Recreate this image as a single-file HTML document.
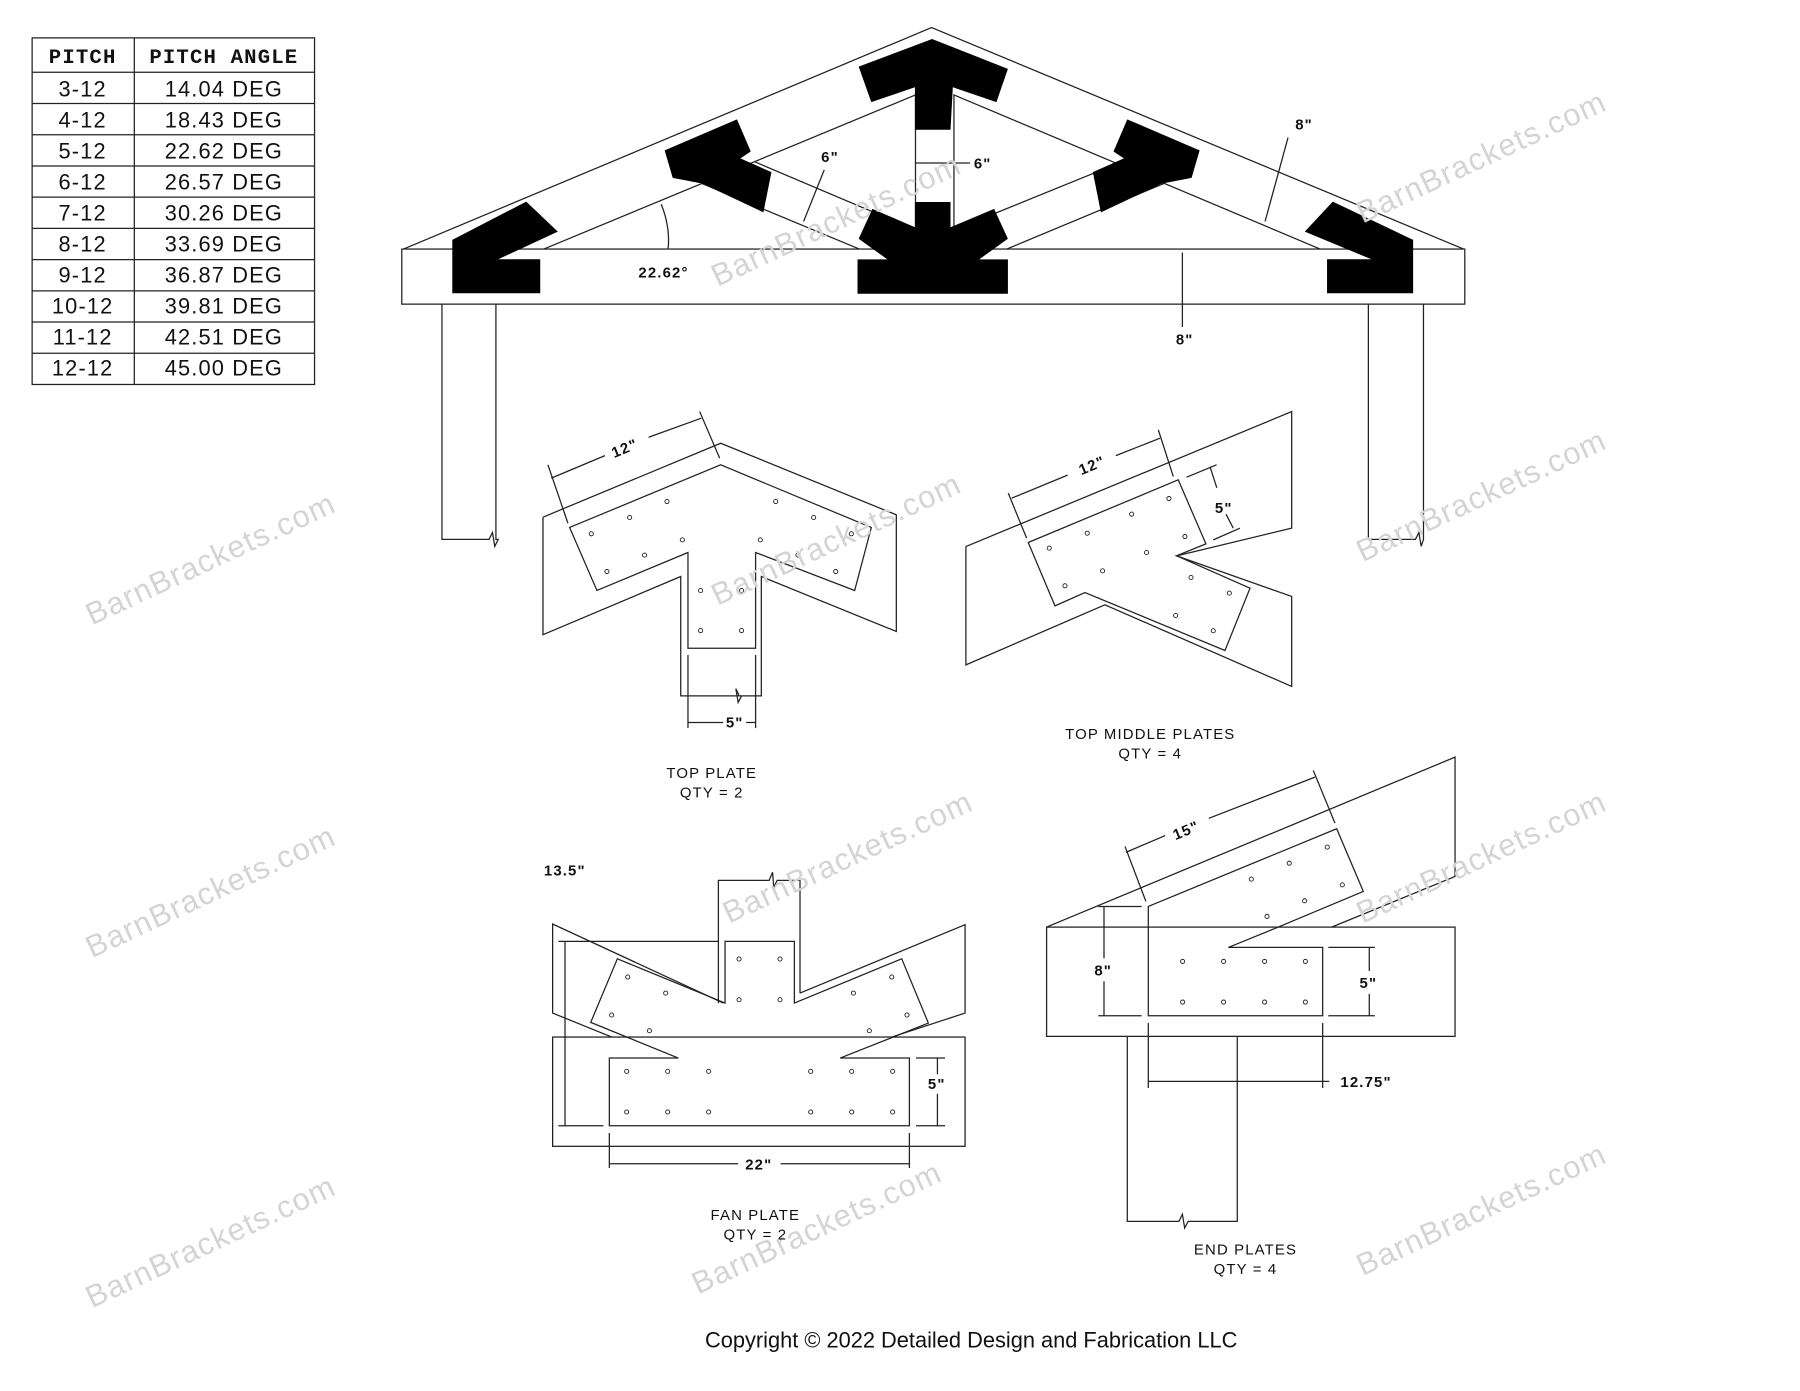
<!DOCTYPE html>
<html><head><meta charset="utf-8"><style>
html,body{margin:0;padding:0;background:#fff}
svg{display:block}
.t{font-family:"Liberation Sans",sans-serif;fill:#111}
.wm{font-family:"Liberation Sans",sans-serif;font-size:27px;fill:#d4d4d4;letter-spacing:1px}
</style></head><body>
<svg width="1800" height="1391" viewBox="0 0 1568 1212" preserveAspectRatio="none" xmlns="http://www.w3.org/2000/svg">
<g fill="none" stroke="#222" stroke-width="1.1">
<!-- table -->
<rect x="28" y="33" width="246" height="302"/>
<line x1="117" y1="33" x2="117" y2="335"/>
<line x1="28" y1="63" x2="274" y2="63"/>
<line x1="28" y1="90.2" x2="274" y2="90.2"/><line x1="28" y1="117.4" x2="274" y2="117.4"/>
<line x1="28" y1="144.6" x2="274" y2="144.6"/><line x1="28" y1="171.8" x2="274" y2="171.8"/>
<line x1="28" y1="199" x2="274" y2="199"/><line x1="28" y1="226.2" x2="274" y2="226.2"/>
<line x1="28" y1="253.4" x2="274" y2="253.4"/><line x1="28" y1="280.6" x2="274" y2="280.6"/>
<line x1="28" y1="307.8" x2="274" y2="307.8"/>

<!-- truss -->
<polyline points="351.5,217 811.5,24 1275,217"/>
<rect x="350" y="217" width="926" height="48"/>
<polyline points="473.7,217 797.5,82.7 797.5,217"/>
<polyline points="1150,217 831,82.7 831,217"/>
<line x1="657" y1="140.8" x2="797.5" y2="200.4"/>
<line x1="611" y1="159.7" x2="748.6" y2="217"/>
<line x1="977.7" y1="140.8" x2="831" y2="200.4"/>
<line x1="1014.4" y1="159.7" x2="877" y2="217"/>
<!-- posts -->
<polyline points="385,265 385,470 426,470 429,464 431,476 434,470 432,470 432,265"/>
<polyline points="1192,265 1192,470 1233,470 1236,464 1238,476 1240,470 1240,265"/>
<!-- truss dims -->
<line x1="700" y1="193" x2="718" y2="148"/>
<line x1="797" y1="142" x2="845" y2="142"/>
<line x1="1102" y1="193" x2="1122" y2="120"/>
<line x1="1030" y1="220" x2="1030" y2="285"/>
<path d="M576,178 Q584,198 582,217"/>

<!-- top plate detail -->
<polyline points="473,450.6 627.8,386.2 780.8,448.6 780.8,550.2 663.2,502.3 663.2,606.3 644,606.3 641,600 643,612 646,606.3 593,606.3 593,502.3 473,553 473,450.6"/>
<polygon points="496.2,459.6 627.8,405 759,459.6 744.5,514.5 658.2,481.4 658.2,564.8 599.3,564.8 599.3,481.4 520,514.5"/>
<line x1="599.3" y1="570.6" x2="599.3" y2="634.4"/><line x1="658.2" y1="570.6" x2="658.2" y2="634.4"/>
<line x1="599.3" y1="629.5" x2="630" y2="629.5"/><line x1="650" y1="629.5" x2="658.2" y2="629.5"/>
<line x1="477.3" y1="405" x2="494.7" y2="455.8"/><line x1="609.5" y1="358.6" x2="626.9" y2="399.2"/>
<line x1="480.2" y1="416.6" x2="527" y2="397"/><line x1="565" y1="381" x2="610.9" y2="364.4"/>

<!-- top middle plates detail -->
<polyline points="841.4,476.2 1125.2,358.6 1125.2,460.2 1025,484.3 1125.2,519.7 1125.2,598.1 962.5,527 841.4,579.3 841.4,476.2"/>
<polygon points="895.7,472.7 1026.4,418.1 1050.5,473.9 1025,484.3 1088.9,512.5 1067.1,566.8 945.1,516.3 919,527.9"/>
<line x1="878.3" y1="429.7" x2="894.3" y2="468.9"/><line x1="1009" y1="374.5" x2="1022.1" y2="415.2"/>
<line x1="881.2" y1="434.1" x2="930" y2="414"/><line x1="972" y1="397" x2="1010.5" y2="381.8"/>
<line x1="1033.7" y1="415.8" x2="1059.8" y2="405"/><line x1="1056.9" y1="470.4" x2="1080.1" y2="460.2"/>
<line x1="1054" y1="406.5" x2="1060" y2="425"/><line x1="1068" y1="448" x2="1074.3" y2="460.2"/>

<!-- fan plate detail -->
<polyline points="625.8,874 625.8,767.1 670,767.1 673,760 674,773 677,767.1 696.9,767.1 696.9,865.3"/>
<polyline points="630.1,874 481.4,805.1 481.4,882.7 532.9,903.6"/>
<polyline points="696.9,865.3 840.7,805.7 840.7,882.7 776.8,903.6"/>
<rect x="481.4" y="903.6" width="359.3" height="95.2"/>
<polygon points="631.6,820.2 692,820.2 692,874 785.5,835.4 808.7,891.4 731.8,921.9 792.2,921.9 792.2,980.9 530.8,980.9 530.8,921.9 590.9,921.9 514.6,890.8 537.8,835.4 631.6,874"/>
<line x1="492.2" y1="820.2" x2="492.2" y2="980.9"/>
<line x1="486.4" y1="820.2" x2="625.8" y2="820.2"/><line x1="486.4" y1="980.9" x2="525.6" y2="980.9"/>
<line x1="816.6" y1="921.9" x2="816.6" y2="936"/><line x1="816.6" y1="953" x2="816.6" y2="980.9"/>
<line x1="798" y1="921.9" x2="823.2" y2="921.9"/><line x1="798" y1="980.9" x2="823.2" y2="980.9"/>
<line x1="530.8" y1="987.2" x2="530.8" y2="1017.7"/><line x1="792.2" y1="987.2" x2="792.2" y2="1017.7"/>
<line x1="530.8" y1="1014" x2="643" y2="1014"/><line x1="680" y1="1014" x2="792.2" y2="1014"/>

<!-- end plates detail -->
<polyline points="911.7,807.8 1267.5,659.7 1267.5,763.7 1160,807.8"/>
<rect x="911.7" y="807.8" width="355.8" height="95.2"/>
<polyline points="982,903 982,1064.2 1027,1064.2 1030,1058 1032,1070 1035,1064.2 1077.8,1064.2 1077.8,903"/>
<polygon points="1000.3,789.8 1164.4,722.1 1187.6,776.7 1113.5,807.8 1070,825.5 1152.2,825.5 1152.2,885 1000.3,885"/>
<line x1="980" y1="737.5" x2="998.2" y2="785.4"/><line x1="1144" y1="671.3" x2="1162.9" y2="717.2"/>
<line x1="980.8" y1="742.7" x2="1015" y2="728"/><line x1="1053" y1="713" x2="1145.5" y2="677.1"/>
<line x1="961.7" y1="789.8" x2="961.7" y2="835"/><line x1="961.7" y1="855" x2="961.7" y2="885"/>
<line x1="956.7" y1="789.8" x2="994.5" y2="789.8"/><line x1="956.7" y1="885" x2="994.5" y2="885"/>
<line x1="1192.8" y1="825.5" x2="1192.8" y2="846"/><line x1="1192.8" y1="866" x2="1192.8" y2="885"/>
<line x1="1157.1" y1="825.5" x2="1197.7" y2="825.5"/><line x1="1157.1" y1="885" x2="1197.7" y2="885"/>
<line x1="1000.3" y1="891.4" x2="1000.3" y2="948"/><line x1="1152.2" y1="891.4" x2="1152.2" y2="948"/>
<line x1="1000.3" y1="942.2" x2="1158" y2="942.2"/>
</g>

<!-- black truss plates -->
<g fill="#000">
<polygon points="748,58 812,34 878,60 868,89 830,76 828,113 797,113 797,76 759,89"/>
<polygon points="797,176 828,176 828,198 866,182 878,208 853,226 878,226 878,256 747,256 747,226 773,226 748,208 760,182 797,198"/>
<polygon points="394,209 458.4,175.7 485.9,201.8 434,225.9 470.6,225.9 470.6,255.5 394,255.5"/>
<polygon points="1136.6,201.8 1161,175.7 1231,209 1231,255.5 1156,255.5 1156,225.9 1194.6,225.9"/>
<polygon points="579,131 642,104 654,132 645,138 672,150 665,185 612,160 586,155"/>
<polygon points="1045,131 982,104 970,132 979,138 952,150 959,185 1012,160 1038,155"/>
</g>

<!-- holes -->
<g fill="#fff" stroke="#222" stroke-width="0.8">
<circle cx="515.1" cy="465.1" r="1.8"/><circle cx="548.5" cy="450.9" r="1.8"/><circle cx="581" cy="437" r="1.8"/>
<circle cx="528.7" cy="498" r="1.8"/><circle cx="561.5" cy="483.7" r="1.8"/><circle cx="594.4" cy="470.4" r="1.8"/>
<circle cx="675.7" cy="437" r="1.8"/><circle cx="708.8" cy="450.9" r="1.8"/><circle cx="741.6" cy="465.1" r="1.8"/>
<circle cx="662.3" cy="470.4" r="1.8"/><circle cx="695.1" cy="483.7" r="1.8"/><circle cx="728" cy="498" r="1.8"/>
<circle cx="610.3" cy="514.5" r="1.8"/><circle cx="646" cy="514.5" r="1.8"/><circle cx="610.3" cy="549.4" r="1.8"/><circle cx="646" cy="549.4" r="1.8"/>

<circle cx="914" cy="477.6" r="1.8"/><circle cx="947.1" cy="464.6" r="1.8"/><circle cx="985.8" cy="448" r="1.8"/><circle cx="1018.3" cy="434.4" r="1.8"/>
<circle cx="1032.2" cy="467.5" r="1.8"/><circle cx="998.8" cy="481.4" r="1.8"/><circle cx="960.5" cy="497.4" r="1.8"/><circle cx="927.7" cy="510.4" r="1.8"/>
<circle cx="1037.5" cy="503.2" r="1.8"/><circle cx="1070.9" cy="516.8" r="1.8"/><circle cx="1024.1" cy="536.3" r="1.8"/><circle cx="1056.9" cy="549.6" r="1.8"/>

<circle cx="643.8" cy="835.6" r="1.8"/><circle cx="679.5" cy="835.6" r="1.8"/><circle cx="643.8" cy="871.1" r="1.8"/><circle cx="679.5" cy="871.1" r="1.8"/>
<circle cx="546.8" cy="851.3" r="1.8"/><circle cx="579.9" cy="865.3" r="1.8"/><circle cx="532.8" cy="884.4" r="1.8"/><circle cx="565.7" cy="898.1" r="1.8"/>
<circle cx="776.8" cy="851.3" r="1.8"/><circle cx="743.4" cy="865.3" r="1.8"/><circle cx="790.1" cy="884.4" r="1.8"/><circle cx="757.3" cy="898.1" r="1.8"/>
<circle cx="545.9" cy="933.5" r="1.8"/><circle cx="581.6" cy="933.5" r="1.8"/><circle cx="617.3" cy="933.5" r="1.8"/>
<circle cx="706.2" cy="933.5" r="1.8"/><circle cx="741.9" cy="933.5" r="1.8"/><circle cx="777.6" cy="933.5" r="1.8"/>
<circle cx="545.9" cy="968.9" r="1.8"/><circle cx="581.6" cy="968.9" r="1.8"/><circle cx="617.3" cy="968.9" r="1.8"/>
<circle cx="706.2" cy="968.9" r="1.8"/><circle cx="741.9" cy="968.9" r="1.8"/><circle cx="777.6" cy="968.9" r="1.8"/>

<circle cx="1156.2" cy="738.1" r="1.8"/><circle cx="1123.1" cy="752.1" r="1.8"/><circle cx="1090" cy="766" r="1.8"/>
<circle cx="1169.3" cy="771" r="1.8"/><circle cx="1136.5" cy="784.9" r="1.8"/><circle cx="1103.7" cy="798.5" r="1.8"/>
<circle cx="1030.2" cy="837.7" r="1.8"/><circle cx="1065.9" cy="837.7" r="1.8"/><circle cx="1101.6" cy="837.7" r="1.8"/><circle cx="1137.1" cy="837.7" r="1.8"/>
<circle cx="1030.2" cy="873.1" r="1.8"/><circle cx="1065.9" cy="873.1" r="1.8"/><circle cx="1101.6" cy="873.1" r="1.8"/><circle cx="1137.1" cy="873.1" r="1.8"/>
</g>

<!-- watermarks -->
<g class="wm">
<text transform="translate(80,545) rotate(-25)">BarnBrackets.com</text>
<text transform="translate(80,835) rotate(-25)">BarnBrackets.com</text>
<text transform="translate(80,1140) rotate(-25)">BarnBrackets.com</text>
<text transform="translate(625,250) rotate(-25)">BarnBrackets.com</text>
<text transform="translate(625,528) rotate(-25)">BarnBrackets.com</text>
<text transform="translate(635,805) rotate(-25)">BarnBrackets.com</text>
<text transform="translate(608,1128) rotate(-25)">BarnBrackets.com</text>
<text transform="translate(1187,195) rotate(-25)">BarnBrackets.com</text>
<text transform="translate(1187,490) rotate(-25)">BarnBrackets.com</text>
<text transform="translate(1187,805) rotate(-25)">BarnBrackets.com</text>
<text transform="translate(1187,1112) rotate(-25)">BarnBrackets.com</text>
</g>

<!-- table text -->
<g class="t" font-size="18" text-anchor="middle" letter-spacing="1" font-weight="bold">
<text x="72" y="55" font-family="Liberation Mono">PITCH</text>
<text x="195" y="55" font-family="Liberation Mono">PITCH ANGLE</text>
<g font-weight="normal" font-size="19">
<text x="72" y="84">3-12</text><text x="195" y="84">14.04 DEG</text>
<text x="72" y="111">4-12</text><text x="195" y="111">18.43 DEG</text>
<text x="72" y="138">5-12</text><text x="195" y="138">22.62 DEG</text>
<text x="72" y="165">6-12</text><text x="195" y="165">26.57 DEG</text>
<text x="72" y="192">7-12</text><text x="195" y="192">30.26 DEG</text>
<text x="72" y="219">8-12</text><text x="195" y="219">33.69 DEG</text>
<text x="72" y="246">9-12</text><text x="195" y="246">36.87 DEG</text>
<text x="72" y="273">10-12</text><text x="195" y="273">39.81 DEG</text>
<text x="72" y="300">11-12</text><text x="195" y="300">42.51 DEG</text>
<text x="72" y="327">12-12</text><text x="195" y="327">45.00 DEG</text>
</g>
</g>

<!-- dims / labels -->
<g class="t" font-size="13" text-anchor="middle" letter-spacing="1" font-weight="bold">
<text x="723" y="141">6"</text>
<text x="856" y="147">6"</text>
<text x="1136" y="113">8"</text>
<text x="1032" y="300">8"</text>
<text x="578" y="242">22.62°</text>
<text x="544" y="395" transform="rotate(-22.6 544 390)">12"</text>
<text x="640" y="634">5"</text>
<text x="951" y="410" transform="rotate(-22.6 951 405)">12"</text>
<text x="1066" y="447">5"</text>
<text x="492" y="763">13.5"</text>
<text x="816" y="949">5"</text>
<text x="661" y="1019">22"</text>
<text x="1033" y="728" transform="rotate(-22.6 1033 723)">15"</text>
<text x="961" y="850">8"</text>
<text x="1192" y="861">5"</text>
<text x="1190" y="947">12.75"</text>
<g font-weight="normal">
<text x="620" y="678">TOP PLATE</text><text x="620" y="695">QTY = 2</text>
<text x="1002" y="644">TOP MIDDLE PLATES</text><text x="1002" y="661">QTY = 4</text>
<text x="658" y="1063">FAN PLATE</text><text x="658" y="1080">QTY = 2</text>
<text x="1085" y="1093">END PLATES</text><text x="1085" y="1110">QTY = 4</text>
</g>
</g>
<text class="t" x="846" y="1174" font-size="19" text-anchor="middle">Copyright © 2022 Detailed Design and Fabrication LLC</text>
</svg>
</body></html>
